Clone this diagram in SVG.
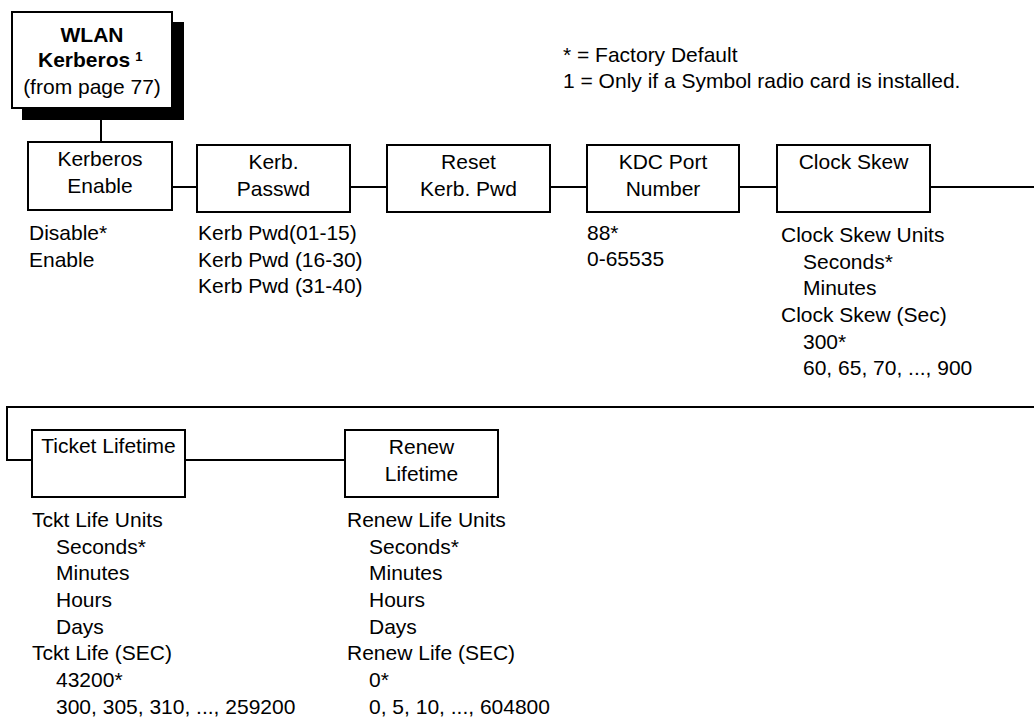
<svg xmlns="http://www.w3.org/2000/svg" width="1034" height="717" viewBox="0 0 1034 717">
<style>
text{font-family:"Liberation Sans",Arial,Helvetica,sans-serif;font-size:21px;fill:#000}
.c{text-anchor:middle}
.b{font-weight:bold}
.box{fill:#fff;stroke:#000;stroke-width:2}
.ln{fill:none;stroke:#000;stroke-width:2}
</style>
<rect width="1034" height="717" fill="#fff"/>
<g id="connectors">
<line class="ln" x1="101" y1="120" x2="101" y2="142"/>
<line class="ln" x1="172" y1="187" x2="197" y2="187"/>
<line class="ln" x1="350" y1="187" x2="387" y2="187"/>
<line class="ln" x1="550" y1="187" x2="587" y2="187"/>
<line class="ln" x1="739" y1="187" x2="777" y2="187"/>
<line class="ln" x1="930" y1="187" x2="1034" y2="187"/>
<polyline class="ln" points="1034,407 7,407 7,460 32,460"/>
<line class="ln" x1="185" y1="460" x2="345" y2="460"/>
</g>
<g id="legend">
<text x="563" y="62">* = Factory Default</text>
<text x="563" y="88">1 = Only if a Symbol radio card is installed.</text>
</g>
<g id="wlan">
<rect x="22" y="22" width="162" height="98" fill="#000"/>
<rect class="box" x="12" y="12" width="160" height="96"/>
<text class="c b" x="92" y="42">WLAN</text>
<text class="b" x="38" y="67">Kerberos<tspan font-size="13" dx="5" dy="-6">1</tspan></text>
<text class="c" x="92" y="94">(from page 77)</text>
</g>
<g id="kerberos-enable">
<rect class="box" x="28" y="142" width="144" height="68"/>
<text class="c" x="100" y="166">Kerberos</text>
<text class="c" x="100" y="193">Enable</text>
<text x="29" y="240">Disable*</text>
<text x="29" y="267">Enable</text>
</g>
<g id="kerb-passwd">
<rect class="box" x="197" y="145" width="153" height="67"/>
<text class="c" x="273.5" y="169">Kerb.</text>
<text class="c" x="273.5" y="196">Passwd</text>
<text x="198" y="240">Kerb Pwd(01-15)</text>
<text x="198" y="267">Kerb Pwd (16-30)</text>
<text x="198" y="293">Kerb Pwd (31-40)</text>
</g>
<g id="reset-kerb-pwd">
<rect class="box" x="387" y="145" width="163" height="67"/>
<text class="c" x="468.5" y="169">Reset</text>
<text class="c" x="468.5" y="196">Kerb. Pwd</text>
</g>
<g id="kdc-port">
<rect class="box" x="587" y="145" width="152" height="67"/>
<text class="c" x="663" y="169">KDC Port</text>
<text class="c" x="663" y="196">Number</text>
<text x="587" y="240">88*</text>
<text x="587" y="266">0-65535</text>
</g>
<g id="clock-skew">
<rect class="box" x="777" y="145" width="153" height="67"/>
<text class="c" x="853.5" y="169">Clock Skew</text>
<text x="781" y="242">Clock Skew Units</text>
<text x="803" y="268.7">Seconds*</text>
<text x="803" y="295.3">Minutes</text>
<text x="781" y="322">Clock Skew (Sec)</text>
<text x="803" y="348.7">300*</text>
<text x="803" y="375.3">60, 65, 70, ..., 900</text>
</g>
<g id="ticket-lifetime">
<rect class="box" x="32" y="430" width="153" height="67"/>
<text class="c" x="108.5" y="453">Ticket Lifetime</text>
<text x="32" y="527">Tckt Life Units</text>
<text x="56" y="553.7">Seconds*</text>
<text x="56" y="580.3">Minutes</text>
<text x="56" y="607">Hours</text>
<text x="56" y="633.7">Days</text>
<text x="32" y="660.3">Tckt Life (SEC)</text>
<text x="56" y="687">43200*</text>
<text x="56" y="713.7">300, 305, 310, ..., 259200</text>
</g>
<g id="renew-lifetime">
<rect class="box" x="345" y="430" width="153" height="67"/>
<text class="c" x="421.5" y="454">Renew</text>
<text class="c" x="421.5" y="481">Lifetime</text>
<text x="347" y="527">Renew Life Units</text>
<text x="369" y="553.7">Seconds*</text>
<text x="369" y="580.3">Minutes</text>
<text x="369" y="607">Hours</text>
<text x="369" y="633.7">Days</text>
<text x="347" y="660.3">Renew Life (SEC)</text>
<text x="369" y="687">0*</text>
<text x="369" y="713.7">0, 5, 10, ..., 604800</text>
</g>
</svg>
